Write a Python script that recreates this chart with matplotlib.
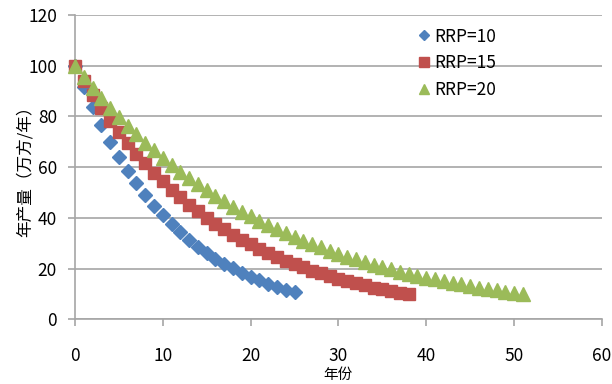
import matplotlib.pyplot as plt

plt.rcParams["font.family"] = ["Noto Sans CJK SC", "DejaVu Sans"]

# values
rrp10 = [100, 91.5, 83.7, 76.6, 70.0, 64.0, 58.6, 53.6, 49.0, 44.8, 41.0,
         37.5, 34.3, 31.4, 28.7, 26.3, 24.0, 22.0, 20.1, 18.4, 16.8,
         15.4, 14.1, 12.9, 11.8, 10.8]
rrp15 = [100, 94.1, 88.5, 83.3, 78.4, 73.8, 69.4, 65.3, 61.5, 57.8, 54.4,
         51.2, 48.2, 45.3, 42.7, 40.1, 37.8, 35.5, 33.4, 31.5, 29.6,
         27.9, 26.2, 24.7, 23.2, 21.9, 20.6, 19.3, 18.2, 17.1, 16.1,
         15.2, 14.3, 13.4, 12.6, 11.9, 11.2, 10.5, 9.9]
rrp20 = [100, 95.6, 91.4, 87.4, 83.5, 79.8, 76.3, 72.9, 69.7, 66.7, 63.7,
         60.9, 58.3, 55.7, 53.2, 50.9, 48.7, 46.5, 44.5, 42.5, 40.6,
         38.9, 37.1, 35.5, 33.9, 32.4, 31.0, 29.7, 28.4, 27.1, 25.9,
         24.8, 23.7, 22.6, 21.6, 20.7, 19.8, 18.9, 18.1, 17.3, 16.5,
         15.8, 15.1, 14.4, 13.8, 13.2, 12.6, 12.0, 11.5, 11.0, 10.5, 10.0]
labels = ["RRP=10", "RRP=15", "RRP=20"]

fig = plt.figure(figsize=(6.12, 3.84), dpi=100)
ax = fig.add_axes([0.1225, 0.168, 0.861, 0.793])

ax.plot(range(len(rrp10)), rrp10, "D", color="#4F81BD", ms=7, mec="#4F81BD",
        label=labels[0], clip_on=False, zorder=3)
ax.plot(range(len(rrp15)), rrp15, "s", color="#C0504D", ms=8.5, mec="#C0504D",
        label=labels[1], clip_on=False, zorder=4)
ax.plot(range(len(rrp20)), rrp20, "^", color="#9BBB59", ms=9.5, mec="#9BBB59",
        label=labels[2], clip_on=False, zorder=5)

ax.set_xlim(0, 60)
ax.set_ylim(0, 120)
ax.set_xticks(range(0, 61, 10))
ax.set_yticks(range(0, 121, 20))
ax.yaxis.grid(True, color="#A6A6A6", lw=1.2)
ax.set_axisbelow(True)

for s in ["top", "right"]:
    ax.spines[s].set_visible(False)
for s in ["left", "bottom"]:
    ax.spines[s].set_color("#A6A6A6")
    ax.spines[s].set_linewidth(1.2)

ax.tick_params(axis="x", colors="#A6A6A6", labelcolor="black", labelsize=12.5,
               length=5, width=1.2, pad=15)
ax.tick_params(axis="y", colors="#A6A6A6", labelcolor="black", labelsize=12.5,
               length=5, width=1.2, pad=8)

ax.set_xlabel("年份", fontsize=10.5, labelpad=2)
ax.set_ylabel("年产量（万方/年）", fontsize=12, labelpad=-4)

ax.legend(loc="upper left", bbox_to_anchor=(0.615, 1.01), frameon=False,
          fontsize=12.5, handletextpad=0.05, labelspacing=0.5, handlelength=1.1,
          markerscale=0.8)

fig.savefig("out.png", dpi=100)
